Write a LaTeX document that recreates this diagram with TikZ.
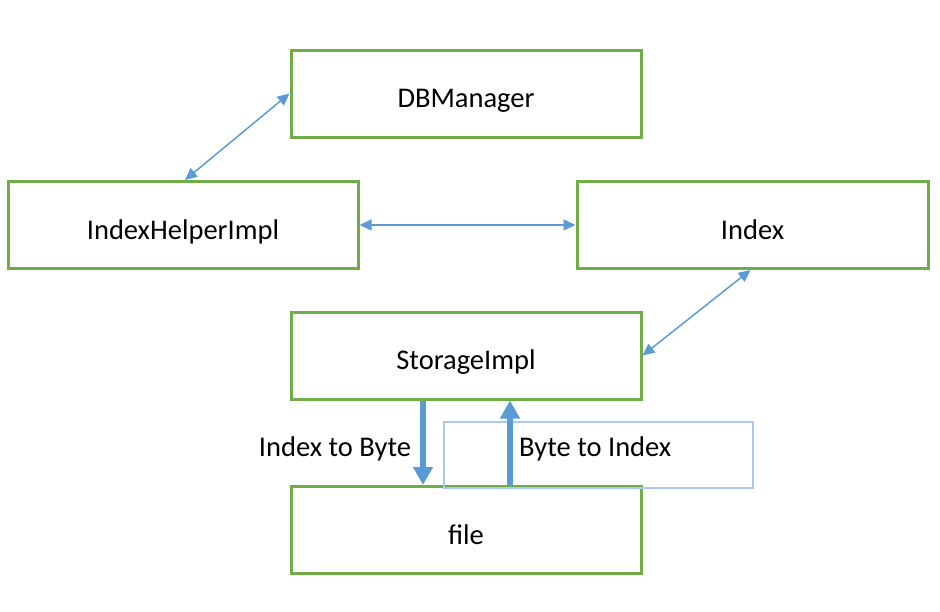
\documentclass[tikz,border=0pt]{standalone}
\usepackage{fontspec}
\setmainfont{Carlito}
\usetikzlibrary{arrows.meta}
\definecolor{boxgreen}{RGB}{112,173,71}
\definecolor{arrblue}{RGB}{91,155,213}
\definecolor{lightblue}{RGB}{170,200,240}
\tikzset{
  classbox/.style={draw=boxgreen, line width=3pt, minimum width=350pt, minimum height=87pt, inner sep=0pt, font=\fontsize{28.5}{32}\selectfont, text height=28pt, text depth=0pt},
  thinarr/.style={draw=arrblue, line width=1.5pt, {Triangle[length=12pt,width=11pt]}-{Triangle[length=12pt,width=11pt]}},
  thickarr/.style={draw=arrblue, line width=6pt, -{Triangle[length=18pt,width=19pt]}},
  lbl/.style={font=\fontsize{28.5}{32}\selectfont, inner sep=0pt}
}
\begin{document}
\begin{tikzpicture}[x=1pt,y=-1pt]
\useasboundingbox (0,0) rectangle (940,611);
\node[classbox] (dbm) at (466,93.5) {DBManager};
\node[classbox] (ihi) at (183,225) {IndexHelperImpl};
\node[classbox, minimum width=351pt] (idx) at (752.5,225) {Index};
\node[classbox] (st) at (466,355.5) {StorageImpl};
\node[classbox] (fl) at (466,530) {file};
\node[draw=lightblue, line width=1.5pt, minimum width=309pt, minimum height=66pt, inner sep=0pt] (bx) at (598.5,455) {};
\node[lbl] (l1) at (335,449) {Index to Byte};
\node[lbl, anchor=west] (l2) at (519,449) {Byte to Index};
\draw[thinarr] (dbm.west) -- ([xshift=2pt]ihi.north);
\draw[thinarr] (ihi.east) -- (idx.west);
\draw[thinarr] ([xshift=-2pt]idx.south) -- (st.east);
\draw[thickarr] ([xshift=-43pt]st.south) -- ([xshift=-43pt]fl.north);
\draw[thickarr] ([xshift=44pt]fl.north) -- ([xshift=44pt]st.south);
\end{tikzpicture}
\end{document}
